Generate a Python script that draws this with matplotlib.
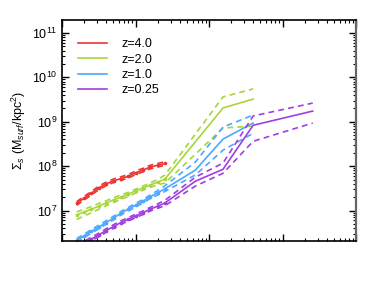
import numpy as np
import matplotlib
matplotlib.use("Agg")
import matplotlib.pyplot as plt
from matplotlib.ticker import LogLocator, NullFormatter

plt.rcParams['font.family'] = ['Liberation Sans', 'DejaVu Sans']
plt.rcParams['mathtext.fontset'] = 'custom'
plt.rcParams['mathtext.rm'] = 'Liberation Sans'
plt.rcParams['mathtext.it'] = 'Liberation Sans:italic'
plt.rcParams['mathtext.bf'] = 'Liberation Sans:bold'

# radius bins (kpc)
r_dense = [0.0158, 0.0200, 0.0251, 0.0316, 0.0398, 0.0501, 0.0631,
           0.0794, 0.100, 0.126, 0.158, 0.200, 0.251]
r_sparse = [0.65, 1.55, 3.98, 25.7]

labels = ["z=4.0", "z=2.0", "z=1.0", "z=0.25"]
colors = ["#ee3333", "#a6d63a", "#4ba8ff", "#a13ee0"]

# log10 surface density values (median, upper, lower)
red_med = [7.16, 7.28, 7.39, 7.51, 7.60, 7.67, 7.72, 7.77, 7.85, 7.91, 7.98, 8.02, 8.06]
red_hi = [7.20, 7.32, 7.43, 7.55, 7.64, 7.71, 7.76, 7.81, 7.89, 7.95, 8.02, 8.06, 8.10]
red_lo = [7.12, 7.24, 7.35, 7.47, 7.56, 7.63, 7.68, 7.73, 7.81, 7.87, 7.94, 7.98, 8.02]

green_med = [6.90, 6.97, 7.03, 7.10, 7.17, 7.24, 7.30, 7.37, 7.44, 7.51, 7.57, 7.64, 7.71, 9.31, 9.51]
green_hi = [6.97, 7.03, 7.09, 7.16, 7.22, 7.29, 7.35, 7.41, 7.48, 7.55, 7.62, 7.70, 7.80, 9.56, 9.74]
green_lo = [6.80, 6.88, 6.95, 7.03, 7.11, 7.18, 7.25, 7.32, 7.39, 7.46, 7.52, 7.58, 7.62, 8.86, 8.90]

blue_med = [6.33, 6.43, 6.53, 6.63, 6.73, 6.83, 6.94, 7.03, 7.12, 7.21, 7.31, 7.40, 7.49, 7.91, 8.61, 8.97]
blue_hi = [6.37, 6.47, 6.57, 6.67, 6.77, 6.87, 6.98, 7.07, 7.16, 7.25, 7.35, 7.45, 7.56, 8.09, 8.88, 9.15]
blue_lo = [6.29, 6.39, 6.49, 6.59, 6.69, 6.79, 6.90, 6.99, 7.08, 7.17, 7.27, 7.35, 7.43, 7.80, 8.36, 8.74]

purple_med = [6.18, 6.27, 6.36, 6.45, 6.55, 6.64, 6.73, 6.80, 6.88, 6.95, 7.03, 7.10, 7.17, 7.66, 7.93, 8.92, 9.24]
purple_hi = [6.22, 6.31, 6.40, 6.49, 6.59, 6.68, 6.77, 6.84, 6.92, 6.99, 7.07, 7.15, 7.23, 7.75, 8.07, 9.13, 9.42]
purple_lo = [6.14, 6.23, 6.32, 6.41, 6.51, 6.60, 6.69, 6.76, 6.84, 6.91, 6.99, 7.05, 7.11, 7.55, 7.84, 8.56, 8.97]

series = [
    (r_dense, red_med, red_hi, red_lo),
    (r_dense + r_sparse[1:3], green_med, green_hi, green_lo),
    (r_dense + r_sparse[:3], blue_med, blue_hi, blue_lo),
    (r_dense + r_sparse, purple_med, purple_hi, purple_lo),
]

fig = plt.figure(figsize=(3.74, 2.81), dpi=100)
ax = fig.add_axes([0.166, 0.142, 0.786, 0.787])

nd = len(r_dense)
for (r, med, hi, lo), c, lab in zip(series, colors, labels):
    r = np.array(r)
    med = 10 ** np.array(med)
    hi = 10 ** np.array(hi)
    lo = 10 ** np.array(lo)
    ax.plot(r, med, color=c, lw=1.2, label=lab)
    ax.plot(r[:nd], med[:nd], 'o', color=c, ms=2.6, mew=0)
    ax.plot(r, hi, color=c, lw=1.2, ls=(0, (3.5, 2.5)))
    ax.plot(r, lo, color=c, lw=1.2, ls=(0, (3.5, 2.5)))

ax.set_xscale('log')
ax.set_yscale('log')
ax.set_xlim(1e-2, 1e2)
ax.set_ylim(2.05e6, 1.96e11)

ax.yaxis.set_major_locator(LogLocator(base=10, numticks=10))
ax.yaxis.set_minor_locator(LogLocator(base=10, subs=np.arange(2, 10), numticks=20))
ax.xaxis.set_major_locator(LogLocator(base=10, numticks=10))
ax.xaxis.set_minor_locator(LogLocator(base=10, subs=np.arange(2, 10), numticks=20))
ax.xaxis.set_major_formatter(NullFormatter())
ax.xaxis.set_minor_formatter(NullFormatter())
ax.yaxis.set_minor_formatter(NullFormatter())

ax.tick_params(which='both', direction='in', top=True, right=True, labelsize=9)
ax.tick_params(which='major', length=5, width=1)
ax.tick_params(which='minor', length=2.5, width=0.8)
for s in ['left', 'bottom', 'top']:
    ax.spines[s].set_linewidth(1.2)
ax.spines['right'].set_linewidth(1.6)
ax.spines['right'].set_color('#666666')

ax.set_ylabel(r"$\Sigma_s$ (M$_{surf}$/kpc$^2$)", fontsize=9, labelpad=3)

leg = ax.legend(loc='upper left', frameon=False, fontsize=9, handlelength=2.35,
                handletextpad=1.1, labelspacing=0.26, borderaxespad=0.3,
                bbox_to_anchor=(0.024, 0.956))

fig.savefig("out.png", dpi=100)
